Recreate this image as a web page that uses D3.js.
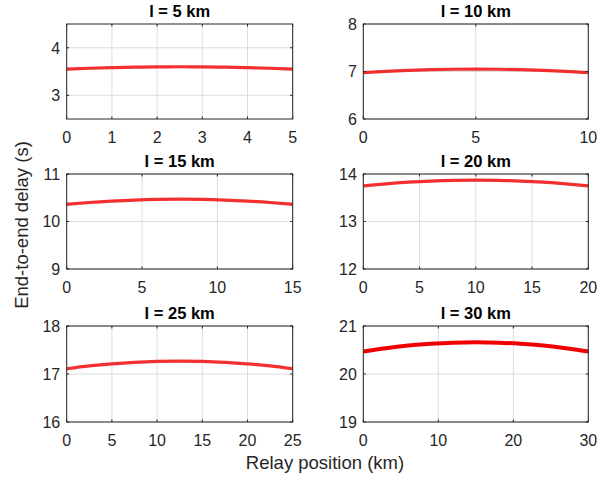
<!DOCTYPE html>
<html>
<head>
<meta charset="utf-8">
<script src="https://cdn.jsdelivr.net/npm/d3@7"></script>
<style>
  body { margin: 0; background: #fff; }
  svg text { font-family: "Liberation Sans", Arial, sans-serif; fill: #262626; }
</style>
</head>
<body>
<svg id="chart" width="613" height="478"></svg>
<script>
// panel titles (link length l)
const lengths = [5, 10, 15, 20, 25, 30];

// relay positions (km) per panel
const pos5  = [0, 0.5, 1, 1.5, 2, 2.5, 3, 3.5, 4, 4.5, 5];
const pos10 = [0, 1, 2, 3, 4, 5, 6, 7, 8, 9, 10];
const pos15 = [0, 1.5, 3, 4.5, 6, 7.5, 9, 10.5, 12, 13.5, 15];
const pos20 = [0, 2, 4, 6, 8, 10, 12, 14, 16, 18, 20];
const pos25 = [0, 2.5, 5, 7.5, 10, 12.5, 15, 17.5, 20, 22.5, 25];
const pos30 = [0, 3, 6, 9, 12, 15, 18, 21, 24, 27, 30];

// end-to-end delay (s)
const delay5  = [3.550, 3.568, 3.582, 3.592, 3.598, 3.600, 3.598, 3.592, 3.582, 3.568, 3.550];
const delay10 = [6.975, 7.002, 7.023, 7.038, 7.047, 7.050, 7.047, 7.038, 7.023, 7.002, 6.975];
const delay15 = [10.360, 10.400, 10.430, 10.452, 10.466, 10.470, 10.466, 10.452, 10.430, 10.400, 10.360];
const delay20 = [13.750, 13.793, 13.827, 13.851, 13.865, 13.870, 13.865, 13.851, 13.827, 13.793, 13.750];
const delay25 = [17.110, 17.168, 17.212, 17.244, 17.264, 17.270, 17.264, 17.244, 17.212, 17.168, 17.110];
const delay30 = [20.470, 20.538, 20.592, 20.630, 20.652, 20.660, 20.652, 20.630, 20.592, 20.538, 20.470];

// axis ranges and tick labels
const yRanges = [[2.5, 4.5], [6, 8], [9, 11], [12, 14], [16, 18], [19, 21]];
const yTicks  = [[3, 4], [6, 7, 8], [9, 10, 11], [12, 13, 14], [16, 17, 18], [19, 20, 21]];
const xTicks  = [
  [0, 1, 2, 3, 4, 5],
  [0, 5, 10],
  [0, 5, 10, 15],
  [0, 5, 10, 15, 20],
  [0, 5, 10, 15, 20, 25],
  [0, 10, 20, 30]
];

const positions = [pos5, pos10, pos15, pos20, pos25, pos30];
const delays = [delay5, delay10, delay15, delay20, delay25, delay30];

// layout
const colX = [[66.7, 292.7], [363.3, 588.3]];
const rowY = [[24, 119], [174, 269], [326, 422]];
const tickLen = 2.5;

const svg = d3.select("#chart");

lengths.forEach((l, i) => {
  const col = i % 2, row = Math.floor(i / 2);
  const [x0, x1] = colX[col];
  const [y0, y1] = rowY[row];

  const x = d3.scaleLinear().domain([0, l]).range([x0, x1]);
  const y = d3.scaleLinear().domain(yRanges[i]).range([y1, y0]);

  const g = svg.append("g");

  // grid
  g.selectAll(".gx").data(xTicks[i]).enter().append("line")
    .attr("x1", d => x(d)).attr("x2", d => x(d))
    .attr("y1", y0).attr("y2", y1)
    .attr("stroke", "#dcdcdc").attr("stroke-width", 1);
  g.selectAll(".gy").data(yTicks[i]).enter().append("line")
    .attr("x1", x0).attr("x2", x1)
    .attr("y1", d => y(d)).attr("y2", d => y(d))
    .attr("stroke", "#dcdcdc").attr("stroke-width", 1);

  // curve
  const pts = positions[i].map((p, k) => [p, delays[i][k]]);
  g.append("path")
    .datum(pts)
    .attr("fill", "none")
    .attr("stroke", i === 5 ? "#f00000" : "#f21a1a")
    .attr("stroke-width", i === 5 ? 4 : 3.2)
    .attr("stroke-opacity", i === 5 ? 1 : 0.9)
    .attr("d", d3.line().x(d => x(d[0])).y(d => y(d[1])).curve(d3.curveNatural));

  // inward ticks on all sides
  xTicks[i].forEach(t => {
    g.append("line").attr("x1", x(t)).attr("x2", x(t)).attr("y1", y1).attr("y2", y1 - tickLen)
      .attr("stroke", "#262626");
    g.append("line").attr("x1", x(t)).attr("x2", x(t)).attr("y1", y0).attr("y2", y0 + tickLen)
      .attr("stroke", "#262626");
  });
  yTicks[i].forEach(t => {
    g.append("line").attr("x1", x0).attr("x2", x0 + tickLen).attr("y1", y(t)).attr("y2", y(t))
      .attr("stroke", "#262626");
    g.append("line").attr("x1", x1).attr("x2", x1 - tickLen).attr("y1", y(t)).attr("y2", y(t))
      .attr("stroke", "#262626");
  });

  // box
  g.append("rect")
    .attr("x", x0).attr("y", y0)
    .attr("width", x1 - x0).attr("height", y1 - y0)
    .attr("fill", "none").attr("stroke", "#262626").attr("stroke-width", 1);

  // tick labels
  g.selectAll(".xl").data(xTicks[i]).enter().append("text")
    .attr("x", d => x(d)).attr("y", y1 + 24)
    .attr("text-anchor", "middle")
    .style("font-size", "16px")
    .text(d => d);
  g.selectAll(".yl").data(yTicks[i]).enter().append("text")
    .attr("x", x0 - 6.5).attr("y", d => y(d) + 5.8)
    .attr("text-anchor", "end")
    .style("font-size", "16px")
    .text(d => d);

  // title
  g.append("text")
    .attr("x", (x0 + x1) / 2).attr("y", y0 - 7)
    .attr("text-anchor", "middle")
    .style("font-size", "16.5px").style("font-weight", "bold")
    .attr("fill", "#000")
    .style("fill", "#000")
    .text(`l = ${l} km`);
});

// shared axis labels
svg.append("text")
  .attr("transform", "translate(28,225) rotate(-90)")
  .attr("text-anchor", "middle")
  .style("font-size", "18.5px")
  .text("End-to-end delay (s)");

svg.append("text")
  .attr("x", 325).attr("y", 469)
  .attr("text-anchor", "middle")
  .style("font-size", "18.5px")
  .text("Relay position (km)");
</script>
</body>
</html>
